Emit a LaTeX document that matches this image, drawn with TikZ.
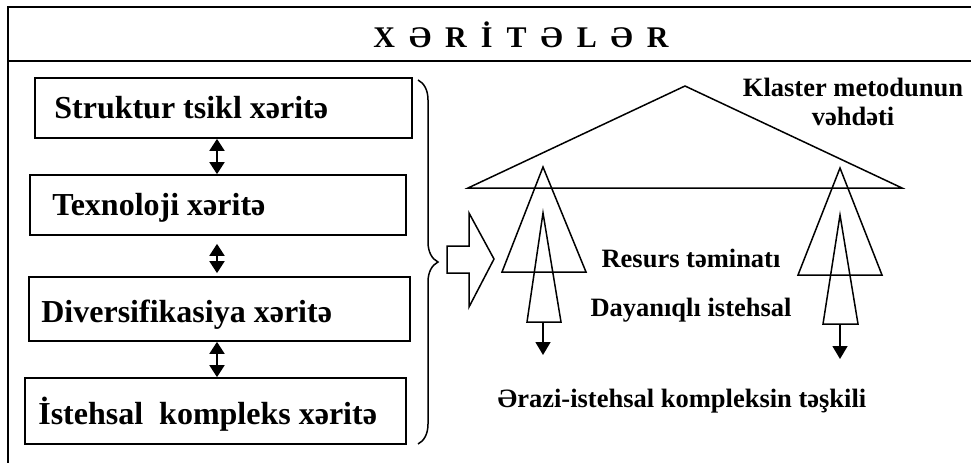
\documentclass[tikz,border=0pt]{standalone}
\usepackage{fontspec}
\setmainfont{Liberation Serif}
\usetikzlibrary{arrows.meta,decorations.pathreplacing}
\begin{document}
\begin{tikzpicture}[x=1pt,y=-1pt,
  frameline/.style={line width=1.8pt},
  mapbox/.style={draw, line width=1.7pt, inner sep=0pt},
  maptext/.style={font=\fontsize{32}{38}\selectfont\bfseries, inner sep=0pt, anchor=base west},
  sidetext/.style={font=\fontsize{26.5}{29}\selectfont\bfseries, inner sep=0pt, align=center, anchor=base},
  linkarrow/.style={line width=1.8pt, {Triangle[length=12pt,width=15pt]}-{Triangle[length=12pt,width=15pt]}},
  outline/.style={line width=1.5pt, line join=miter},
  downarrow/.style={line width=1.5pt, -{Triangle[length=13pt,width=15pt]}}]
\useasboundingbox[fill=white] (0,0) rectangle (971,463);

% frame
\coordinate (ftr) at (971,7);
\coordinate (ftl) at (8,7);
\coordinate (fbl) at (8,463);
\coordinate (hl) at (8,61);
\coordinate (hr) at (971,61);
\draw[frameline] (ftr) -- (ftl) -- (fbl);
\draw[frameline] (hl) -- (hr);

% title
\node[font=\fontsize{30}{36}\selectfont\bfseries, inner sep=0pt, anchor=base] (title) at (521,47)
  {X\hspace{14pt}Ə\hspace{14pt}R\hspace{14pt}İ\hspace{14pt}T\hspace{14pt}Ə\hspace{14pt}L\hspace{14pt}Ə\hspace{14pt}R};

% left boxes
\node[mapbox, minimum width=377pt, minimum height=60pt] (b1) at (223.5,108) {};
\node[mapbox, minimum width=376pt, minimum height=60pt] (b2) at (218,205) {};
\node[mapbox, minimum width=381pt, minimum height=64pt] (b3) at (219.5,309) {};
\node[mapbox, minimum width=381pt, minimum height=66pt] (b4) at (215.5,411) {};

\node[maptext] (t1) at ([xshift=20pt,yshift=-10pt]b1.west) {Struktur tsikl xəritə};
\node[maptext] (t2) at ([xshift=23pt,yshift=-10pt]b2.west) {Texnoloji xəritə};
\node[maptext] (t3) at ([xshift=13pt,yshift=-13pt]b3.west) {Diversifikasiya xəritə};
\node[maptext] (t4) at ([xshift=14pt,yshift=-13pt]b4.west) {İstehsal\ \ kompleks xəritə};

\coordinate (ax) at (217,0);
\draw[linkarrow] (b1.south -| ax) -- (b2.north -| ax);
\draw[linkarrow, shorten <=8pt, shorten >=3pt] (b2.south -| ax) -- (b3.north -| ax);
\draw[linkarrow] (b3.south -| ax) -- (b4.north -| ax);

% brace
\coordinate (br1) at (418,80);
\coordinate (br2) at (418,444);
\draw[line width=1.5pt, decorate, decoration={brace, amplitude=20pt}] (br1) -- (br2);

% block arrow
\draw[outline] (447,246) -- (469,246) -- (469,213) -- (494,259) -- (469,307) -- (469,273) -- (447,273) -- cycle;

% big triangle
\draw[outline] (468,188) -- (685,86) -- (902,188) -- cycle;

% left spike
\draw[outline] (502,272) -- (543,167) -- (586,272) -- cycle;
\draw[outline] (527,322) -- (543,213) -- (561,322) -- cycle;
\coordinate (la1) at (543,322);
\coordinate (la2) at (543,355);
\draw[downarrow] (la1) -- (la2);

% right spike
\draw[outline] (798,275) -- (840,168) -- (882,275) -- cycle;
\draw[outline] (823,324) -- (840,215) -- (858,324) -- cycle;
\coordinate (ra1) at (840,324);
\coordinate (ra2) at (840,359);
\draw[downarrow] (ra1) -- (ra2);

% texts
\node[sidetext] (klaster) at (853,125) {Klaster metodunun\\vəhdəti};
\node[sidetext] (resurs) at (691,267) {Resurs təminatı};
\node[sidetext] (dayaniqli) at (691,316) {Dayanıqlı istehsal};
\node[sidetext] (erazi) at (682,407) {Ərazi-istehsal kompleksin təşkili};
\end{tikzpicture}
\end{document}
